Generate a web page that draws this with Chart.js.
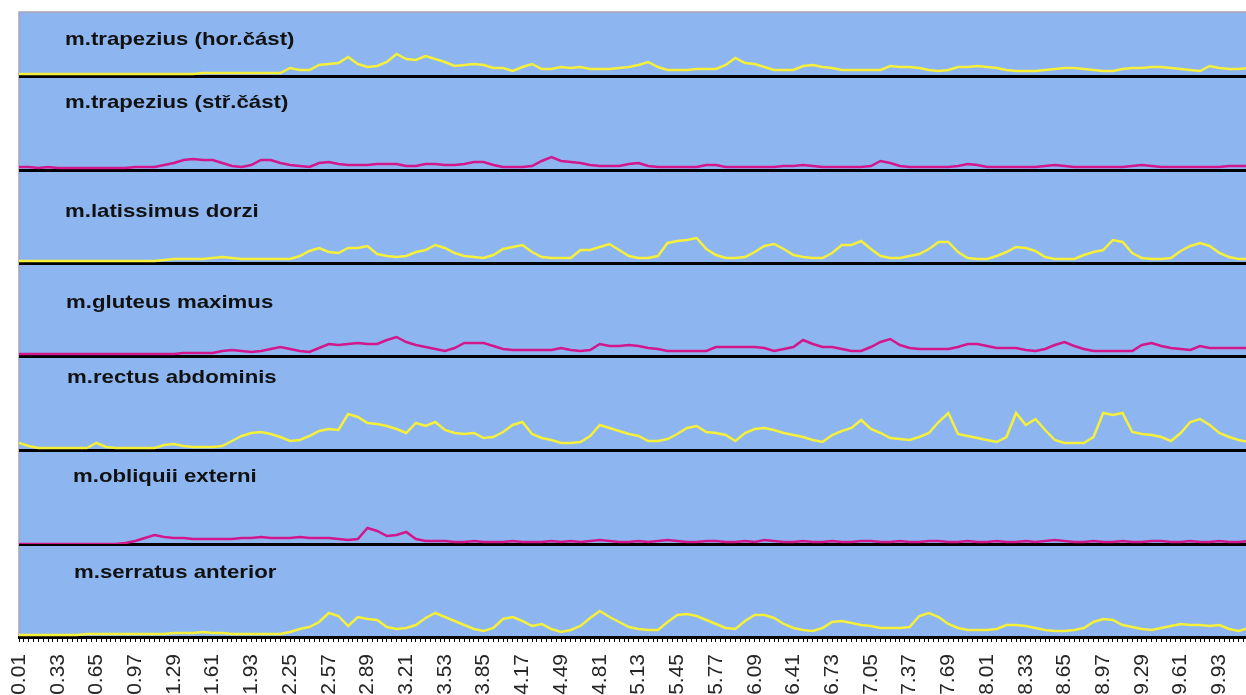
<!DOCTYPE html>
<html>
<head>
<meta charset="utf-8">
<script src="https://cdn.jsdelivr.net/npm/chart.js@4"></script>
<style>
  html, body { margin: 0; padding: 0; background: #fff; }
  #wrap { width: 1246px; height: 695px; position: relative; }
</style>
</head>
<body>
<div id="wrap"><canvas id="emgChart"></canvas></div>
<script>
// EMG envelopes, one panel per muscle, sampled every 0.08 s
const muscles = [
  'm.trapezius (hor.část)',
  'm.trapezius (stř.část)',
  'm.latissimus dorzi',
  'm.gluteus maximus',
  'm.rectus abdominis',
  'm.obliquii externi',
  'm.serratus anterior'
];

const tickLabels = ['0.01', '0.33', '0.65', '0.97', '1.29', '1.61', '1.93', '2.25', '2.57', '2.89',
  '3.21', '3.53', '3.85', '4.17', '4.49', '4.81', '5.13', '5.45', '5.77', '6.09', '6.41',
  '6.73', '7.05', '7.37', '7.69', '8.01', '8.33', '8.65', '8.97', '9.29', '9.61', '9.93'];

const trapHor = [
  2, 2, 2, 2, 2, 2, 2, 2, 2, 2, 2, 2, 2, 2, 2, 2,
  2, 2, 2, 3, 3, 3, 3, 3, 3, 3, 3, 3, 8, 6, 6, 11,
  12, 13, 19, 12, 9, 10, 14, 22, 17, 16, 20, 17, 14, 10, 11, 12,
  11, 8, 8, 5, 9, 12, 7, 7, 9, 8, 9, 7, 7, 7, 8, 9,
  11, 14, 9, 6, 6, 6, 7, 7, 7, 11, 18, 13, 12, 9, 6, 6,
  6, 10, 11, 9, 8, 6, 6, 6, 6, 6, 10, 9, 9, 8, 6, 5,
  6, 9, 9, 10, 9, 8, 6, 5, 5, 5, 6, 7, 8, 8, 7, 6,
  5, 5, 7, 8, 8, 9, 9, 8, 7, 6, 5, 10, 8, 7, 7, 8
];
const trapStr = [
  3, 3, 2, 3, 2, 2, 2, 2, 2, 2, 2, 2, 3, 3, 3, 5,
  7, 10, 11, 10, 10, 7, 4, 3, 5, 10, 10, 7, 5, 4, 3, 7,
  8, 6, 5, 5, 5, 6, 6, 6, 4, 4, 6, 6, 5, 5, 6, 8,
  8, 5, 3, 3, 3, 4, 9, 13, 9, 8, 7, 5, 4, 4, 4, 6,
  7, 4, 3, 3, 3, 3, 3, 5, 5, 3, 3, 3, 3, 3, 3, 4,
  4, 5, 4, 3, 3, 3, 3, 3, 4, 9, 7, 4, 3, 3, 3, 3,
  3, 4, 6, 5, 3, 3, 3, 3, 3, 3, 4, 5, 4, 3, 3, 3,
  3, 3, 3, 4, 5, 4, 3, 3, 3, 3, 3, 3, 3, 4, 4, 4
];
const latDorsi = [
  2, 2, 2, 2, 2, 2, 2, 2, 2, 2, 2, 2, 2, 2, 2, 3,
  4, 4, 4, 4, 5, 6, 5, 4, 4, 4, 4, 4, 4, 7, 12, 15,
  11, 10, 15, 15, 17, 9, 7, 6, 7, 11, 13, 18, 15, 10, 7, 6,
  5, 8, 14, 16, 18, 11, 6, 5, 5, 5, 13, 13, 16, 19, 13, 7,
  5, 5, 7, 20, 22, 23, 25, 14, 8, 5, 5, 6, 11, 17, 19, 14,
  8, 6, 5, 5, 10, 18, 18, 22, 14, 7, 5, 5, 7, 9, 14, 21,
  21, 11, 5, 4, 4, 7, 11, 16, 15, 12, 6, 4, 4, 4, 8, 11,
  13, 23, 21, 10, 5, 4, 4, 5, 12, 17, 20, 17, 10, 6, 4, 4
];
const glutMax = [
  2, 2, 2, 2, 2, 2, 2, 2, 2, 2, 2, 2, 2, 2, 2, 2,
  2, 3, 3, 3, 3, 5, 6, 5, 4, 5, 7, 9, 7, 5, 4, 8,
  12, 11, 12, 13, 12, 12, 16, 19, 14, 11, 9, 7, 5, 8, 13, 13,
  13, 10, 7, 6, 6, 6, 6, 6, 8, 6, 5, 6, 12, 10, 10, 11,
  10, 8, 7, 5, 5, 5, 5, 5, 9, 9, 9, 9, 9, 8, 5, 7,
  9, 16, 12, 9, 9, 7, 5, 5, 9, 14, 17, 11, 8, 7, 7, 7,
  7, 9, 12, 12, 10, 8, 8, 8, 6, 5, 7, 11, 14, 10, 7, 5,
  5, 5, 5, 5, 11, 13, 10, 8, 7, 6, 10, 8, 8, 8, 8, 8
];
const rectAbd = [
  7, 4, 2, 2, 2, 2, 2, 2, 7, 3, 2, 2, 2, 2, 2, 5,
  6, 4, 3, 3, 3, 4, 9, 14, 17, 18, 16, 13, 9, 10, 14, 19,
  21, 20, 36, 33, 27, 26, 24, 21, 17, 27, 24, 28, 20, 17, 16, 17,
  12, 13, 18, 25, 28, 16, 12, 10, 7, 7, 8, 14, 25, 22, 19, 16,
  14, 9, 9, 11, 16, 22, 24, 18, 17, 15, 9, 17, 21, 22, 20, 17,
  15, 13, 10, 8, 15, 19, 22, 30, 21, 17, 12, 11, 10, 13, 17, 28,
  37, 16, 14, 12, 10, 8, 13, 37, 25, 31, 20, 10, 7, 7, 7, 13,
  37, 35, 37, 18, 16, 15, 13, 9, 17, 28, 31, 25, 17, 13, 10, 8
];
const oblExt = [
  0, 0, 0, 0, 0, 0, 0, 0, 0, 0, 0, 1, 3, 6, 9, 7,
  6, 6, 5, 5, 5, 5, 5, 6, 6, 7, 6, 6, 6, 7, 6, 6,
  6, 5, 4, 5, 16, 13, 8, 9, 12, 5, 3, 3, 3, 2, 2, 3,
  2, 2, 2, 3, 2, 2, 2, 3, 2, 3, 2, 3, 4, 3, 2, 2,
  3, 2, 3, 4, 3, 2, 2, 3, 3, 2, 2, 3, 2, 4, 3, 2,
  2, 3, 2, 2, 3, 2, 2, 3, 3, 2, 2, 3, 2, 2, 3, 3,
  2, 2, 3, 2, 2, 3, 2, 2, 3, 2, 3, 4, 3, 2, 2, 3,
  2, 2, 3, 2, 2, 3, 3, 2, 2, 3, 2, 2, 3, 2, 2, 3
];
const serrAnt = [
  2, 2, 2, 2, 2, 2, 2, 3, 3, 3, 3, 3, 3, 3, 3, 3,
  4, 4, 4, 5, 4, 4, 3, 3, 3, 3, 3, 3, 5, 8, 10, 15,
  24, 21, 11, 20, 18, 17, 10, 8, 9, 12, 19, 24, 20, 16, 12, 8,
  6, 9, 18, 20, 16, 11, 13, 8, 5, 7, 11, 19, 26, 20, 15, 10,
  8, 7, 7, 15, 22, 23, 21, 17, 13, 9, 8, 16, 22, 22, 19, 13,
  9, 7, 6, 9, 15, 16, 14, 12, 11, 9, 9, 9, 10, 21, 24, 20,
  13, 9, 7, 7, 7, 8, 12, 12, 11, 9, 7, 6, 6, 7, 9, 15,
  18, 17, 12, 10, 8, 7, 9, 11, 13, 12, 12, 11, 12, 8, 6, 9
];

const series = [trapHor, trapStr, latDorsi, glutMax, rectAbd, oblExt, serrAnt];
const YELLOW = '#f6f03a';
const MAGENTA = '#d2168c';
const lineColors = [YELLOW, MAGENTA, YELLOW, MAGENTA, YELLOW, MAGENTA, YELLOW];

// panel heights (also the y range of each panel) and where the muscle name sits
const panelHeights = [64, 94, 93, 93, 94, 94, 93];
const namePos = [[65, 33], [65, 32], [65, 47], [66, 45], [67, 27], [73, 32], [74, 34]];

// sampling grid and axis tick grid
const times = trapHor.map((_, i) => +(0.01 + i * 0.08).toFixed(2));
const minorTicks = Array.from({length: 254}, (_, k) => +(0.01 + k * 0.04).toFixed(2));

const scales = {
  x: {
    type: 'linear',
    min: 0.01,
    max: 10.15,
    afterBuildTicks: (axis) => { axis.ticks = minorTicks.map(v => ({value: v})); },
    afterFit: (axis) => {
      axis.height = 58;
      axis.paddingLeft = 0;
      axis.paddingRight = 0;
    },
    ticks: {
      autoSkip: false,
      minRotation: 90,
      maxRotation: 90,
      padding: 12,
      color: '#262626',
      font: {family: '"Liberation Sans", Arial, sans-serif', size: 21},
      callback: (value, index) => index % 8 === 0 ? tickLabels[index / 8] : ''
    },
    grid: {drawOnChartArea: false, drawTicks: true, tickLength: 5, color: '#000', lineWidth: 1},
    border: {color: '#000', width: 3}
  }
};

panelHeights.forEach((h, i) => {
  scales['y' + i] = {
    type: 'linear',
    position: 'right',
    stack: 'emg',
    stackWeight: h,
    min: 0,
    max: h,
    z: 1,
    afterBuildTicks: (axis) => { axis.ticks = [{value: 0}]; },
    afterFit: (axis) => {
      axis.width = 0;
      axis.paddingTop = 0;
      axis.paddingBottom = 0;
    },
    ticks: {display: false},
    grid: {drawTicks: false, color: '#000', lineWidth: 3},
    border: {display: false}
  };
});

const panelBackground = {
  id: 'panelBackground',
  beforeDraw(chart) {
    const {ctx, chartArea: a} = chart;
    ctx.save();
    ctx.fillStyle = '#8db6f1';
    ctx.fillRect(a.left, a.top, a.right - a.left, a.bottom - a.top);
    ctx.strokeStyle = '#aaa2b4';
    ctx.lineWidth = 1.5;
    ctx.beginPath();
    ctx.moveTo(a.left, a.bottom);
    ctx.lineTo(a.left, a.top);
    ctx.lineTo(a.right, a.top);
    ctx.stroke();
    ctx.restore();
  }
};

const panelNames = {
  id: 'panelNames',
  afterDraw(chart) {
    const ctx = chart.ctx;
    ctx.save();
    ctx.fillStyle = '#111';
    ctx.font = 'bold 18.5px "Liberation Sans", Arial, sans-serif';
    ctx.textBaseline = 'alphabetic';
    muscles.forEach((name, i) => {
      const s = chart.scales['y' + i];
      ctx.save();
      ctx.translate(namePos[i][0], s.top + namePos[i][1]);
      ctx.scale(1.2, 1);
      ctx.fillText(name, 0, 0);
      ctx.restore();
    });
    ctx.restore();
  }
};

new Chart(document.getElementById('emgChart'), {
  type: 'line',
  data: {
    labels: times,
    datasets: series.map((values, i) => ({
      label: muscles[i],
      data: values,
      yAxisID: 'y' + i,
      xAxisID: 'x',
      borderColor: lineColors[i],
      borderWidth: 2.5,
      pointRadius: 0,
      tension: 0,
      fill: false
    }))
  },
  options: {
    responsive: true,
    maintainAspectRatio: false,
    animation: false,
    layout: {padding: {top: 12, left: 19, right: 0, bottom: 0}},
    plugins: {
      legend: {display: false},
      tooltip: {enabled: false}
    },
    scales: scales
  },
  plugins: [panelBackground, panelNames]
});
</script>
</body>
</html>
